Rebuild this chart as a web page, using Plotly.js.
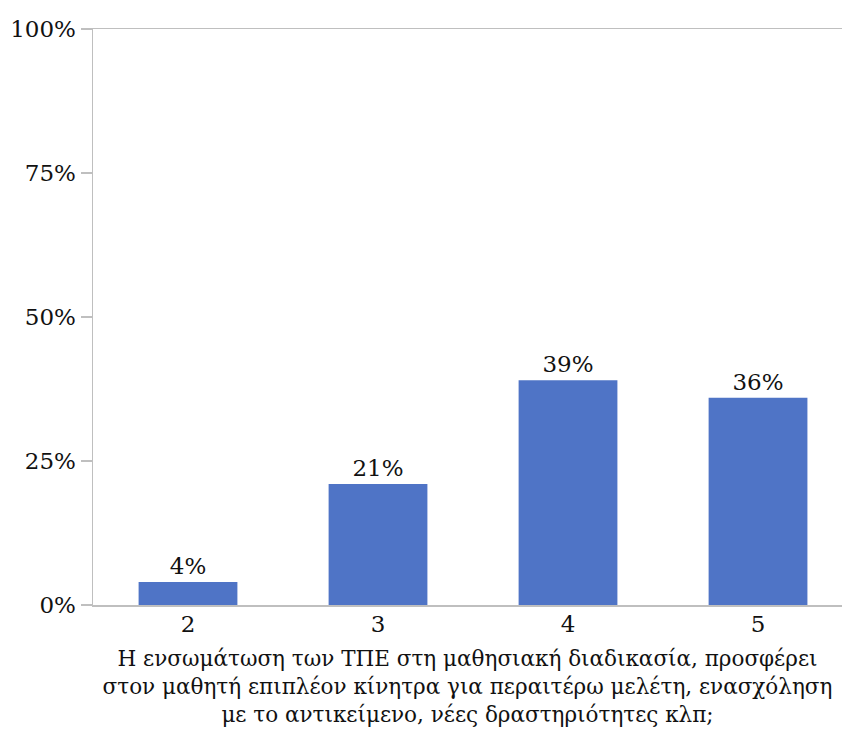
<!DOCTYPE html>
<html>
<head>
<meta charset="utf-8">
<script src="https://cdn.plot.ly/plotly-3.0.1.min.js"></script>
<style>html,body{margin:0;padding:0;overflow:hidden;background:#fff;}#chart{width:842px;height:731px;}</style>
</head>
<body>
<div id="chart"></div>
<script>
const categories = ["2", "3", "4", "5"];
const percentages = [4, 21, 39, 36];
const labels = percentages.map(v => v + "%");
const yTickValues = [0, 25, 50, 75, 100];
const yTickLabels = ["0%", "25%", "50%", "75%", "100%"];
const axisTitle = "Η ενσωμάτωση των ΤΠΕ στη μαθησιακή διαδικασία, προσφέρει<br>στον μαθητή επιπλέον κίνητρα για περαιτέρω μελέτη, ενασχόληση<br>με το αντικείμενο, νέες δραστηριότητες κλπ;";

const font = "'DejaVu Serif', 'Liberation Serif', serif";
const fsize = 23;
const trace = {
  type: "bar",
  x: categories,
  y: percentages,
  text: labels,
  textposition: "outside",
  textfont: {family: font, size: fsize, color: "#111"},
  marker: {color: "#4f74c6"},
  width: 0.52,
  cliponaxis: false,
  hoverinfo: "none"
};
const layout = {
  width: 842, height: 731,
  margin: {l: 93, r: 0, t: 29, b: 126},
  paper_bgcolor: "#fff", plot_bgcolor: "#fff",
  showlegend: false,
  font: {family: font, size: fsize, color: "#111"},
  xaxis: {
    type: "category",
    range: [-0.5, 3.442],
    showline: true, mirror: true, linecolor: "#bfbfbf", linewidth: 1.5,
    ticks: "", showgrid: false, zeroline: false,
    ticklabelstandoff: -2,
    tickfont: {family: font, size: fsize, color: "#111"},
    title: {text: axisTitle, font: {family: font, size: 21.5, color: "#111"}, standoff: 15}
  },
  yaxis: {
    range: [0, 100],
    tickvals: yTickValues, ticktext: yTickLabels,
    showline: true, linecolor: "#bfbfbf", linewidth: 1.5,
    ticks: "outside", ticklen: 11, tickcolor: "#bfbfbf", tickwidth: 1.5,
    showgrid: false, zeroline: false,
    tickfont: {family: font, size: fsize, color: "#111"}
  }
};
Plotly.newPlot("chart", [trace], layout, {staticPlot: true, displayModeBar: false});
</script>
</body>
</html>
